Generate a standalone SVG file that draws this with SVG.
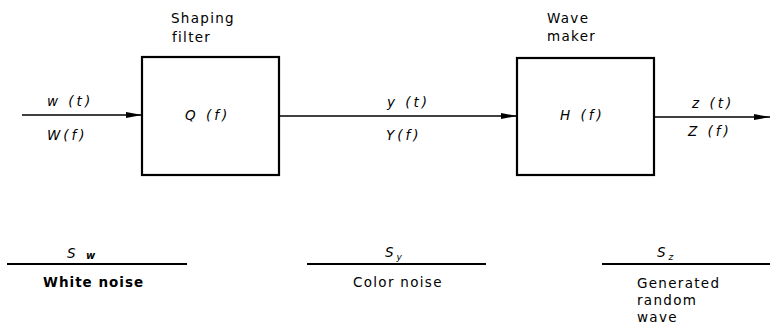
<svg xmlns="http://www.w3.org/2000/svg" width="770" height="328" viewBox="0 0 770 328">
<defs>
<marker id="arr" viewBox="0 0 16 8" refX="16" refY="4" markerWidth="16" markerHeight="8" markerUnits="userSpaceOnUse" orient="auto">
<path d="M0,1 L16,4 L0,7 Z" fill="#000"/>
</marker>
<style>
.t{font-family:"DejaVu Sans","Liberation Sans",sans-serif;font-size:13.5px;fill:#000;letter-spacing:1.3px}
.m{font-family:"DejaVu Sans","Liberation Sans",sans-serif;font-size:13.5px;font-style:italic;fill:#000;letter-spacing:3px}
.box{fill:#fff;stroke:#000;stroke-width:2.2}
.c{stroke:#000;stroke-width:1.6;fill:none}
.rule{stroke:#000;stroke-width:1.8}
</style>
</defs>
<rect width="770" height="328" fill="#fff"/>
<g id="connectors">
<line class="c" x1="22" y1="115" x2="142" y2="115" marker-end="url(#arr)"/>
<line class="c" x1="279" y1="116" x2="517" y2="116" marker-end="url(#arr)"/>
<line class="c" x1="654" y1="117" x2="770" y2="117" marker-end="url(#arr)"/>
</g>
<g id="shaping-filter">
<rect class="box" x="142" y="57" width="137" height="118"/>
<text class="t" x="171" y="23">Shaping</text>
<text class="t" x="172" y="42">filter</text>
<text class="m" x="185" y="120">Q (f)</text>
</g>
<g id="wave-maker">
<rect class="box" x="517" y="58" width="137" height="117"/>
<text class="t" x="547" y="23">Wave</text>
<text class="t" x="547" y="41">maker</text>
<text class="m" x="560" y="120">H (f)</text>
</g>
<g id="labels">
<text class="m" x="47" y="106">w (t)</text>
<text class="m" x="47" y="140">W(f)</text>
<text class="m" x="387" y="107">y (t)</text>
<text class="m" x="386" y="140">Y(f)</text>
<text class="m" x="692" y="108">z (t)</text>
<text class="m" x="688" y="136">Z (f)</text>
</g>
<g id="white-noise">
<line class="rule" x1="7" y1="264" x2="187" y2="264"/>
<text class="m" x="67" y="258">S <tspan font-size="10" font-weight="bold" dy="1">w</tspan></text>
<text class="t" x="43" y="287" font-weight="bold" style="letter-spacing:1px">White noise</text>
</g>
<g id="color-noise">
<line class="rule" x1="307" y1="264" x2="486" y2="264"/>
<text class="m" x="385" y="257">S<tspan font-size="9" dy="3">y</tspan></text>
<text class="t" x="353" y="287">Color noise</text>
</g>
<g id="generated-wave">
<line class="rule" x1="602" y1="264" x2="770" y2="264"/>
<text class="m" x="657" y="257">S<tspan font-size="9" dy="3">z</tspan></text>
<text class="t" x="637" y="288">Generated</text>
<text class="t" x="637" y="305">random</text>
<text class="t" x="637" y="322">wave</text>
</g>
</svg>
